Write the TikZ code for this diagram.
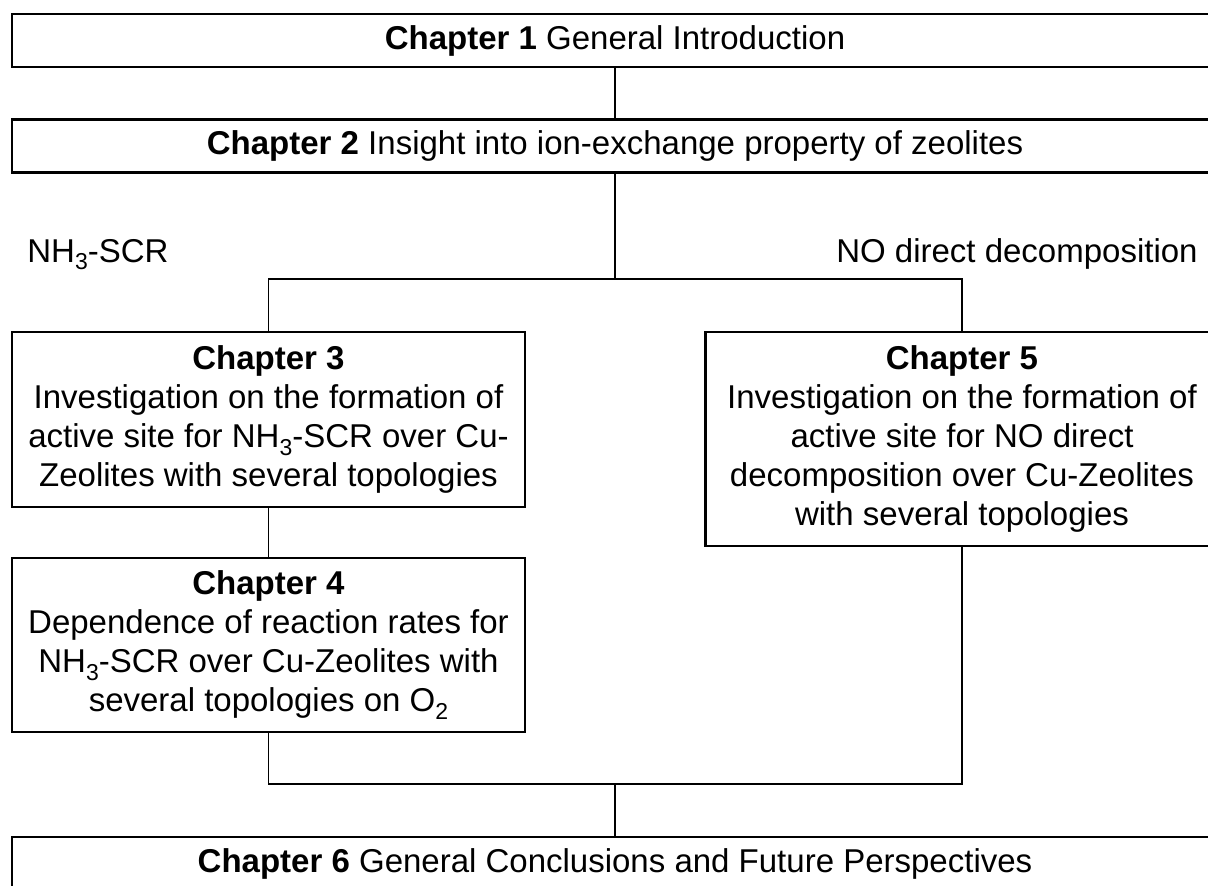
\documentclass[tikz,border=0pt]{standalone}
\usepackage{fontspec}
\setmainfont{Liberation Sans}
\usepackage{tikz}
\usetikzlibrary{calc}

\newcommand{\lowsub}[1]{\raisebox{-0.45ex}{\fontsize{11.5}{11.5}\selectfont #1}}

\tikzset{
  chapbox/.style={draw, line width=1.1pt, rectangle, inner sep=0pt,
                  align=center, font=\fontsize{16.5}{19.5}\selectfont},
  wide/.style={chapbox, minimum width=603pt, minimum height=26.5pt},
  half/.style={chapbox, minimum width=256.5pt},
  link/.style={line width=0.9pt},
  branch/.style={font=\fontsize{16.5}{19.5}\selectfont}
}

\begin{document}
\begin{tikzpicture}[x=0.5pt, y=-0.5pt]
\clip (0,0) rectangle (1208,885);
% ---- chapter boxes ------------------------------------------------
\node[wide] (ch1) at (615,40.5) {\textbf{Chapter 1} General Introduction};
\node[wide] (ch2) at (615,146) {\textbf{Chapter 2} Insight into ion-exchange property of zeolites};
\node[half, minimum height=87.5pt] (ch3) at (268.5,419.5)
     {\textbf{Chapter 3}\\Investigation on the formation of\\active site for NH\lowsub{3}-SCR over Cu-\\Zeolites with several topologies};
\node[half, minimum height=87pt] (ch4) at (268.5,645)
     {\textbf{Chapter 4}\\Dependence of reaction rates for\\NH\lowsub{3}-SCR over Cu-Zeolites with\\several topologies on O\lowsub{2}};
\node[half, minimum height=107pt] (ch5) at (962,439)
     {\textbf{Chapter 5}\\Investigation on the formation of\\active site for NO direct\\decomposition over Cu-Zeolites\\with several topologies};
\node[wide] (ch6) at (615,863.5) {\textbf{Chapter 6} General Conclusions and Future Perspectives};
% ---- branch labels ------------------------------------------------
\node[branch, anchor=base west, inner sep=0pt] (scr) at (27,262) {NH\lowsub{3}-SCR};
\node[branch, anchor=base east, inner sep=0pt] (deco) at (1198,262) {NO direct decomposition};
% ---- connectors ---------------------------------------------------
\coordinate (split) at (615,279);
\coordinate (join) at (615,784);
\draw[link] (ch1.south) -- (ch2.north);
\draw[link] (ch2.south) -- (split);
\draw[link] (ch3.north) -- (ch3.north |- split) -- (ch5.north |- split) -- (ch5.north);
\draw[link] (ch3.south) -- (ch4.north);
\draw[link] (ch4.south) -- (ch4.south |- join) -- (ch5.south |- join) -- (ch5.south);
\draw[link] (join) -- (ch6.north);
\end{tikzpicture}
\end{document}
